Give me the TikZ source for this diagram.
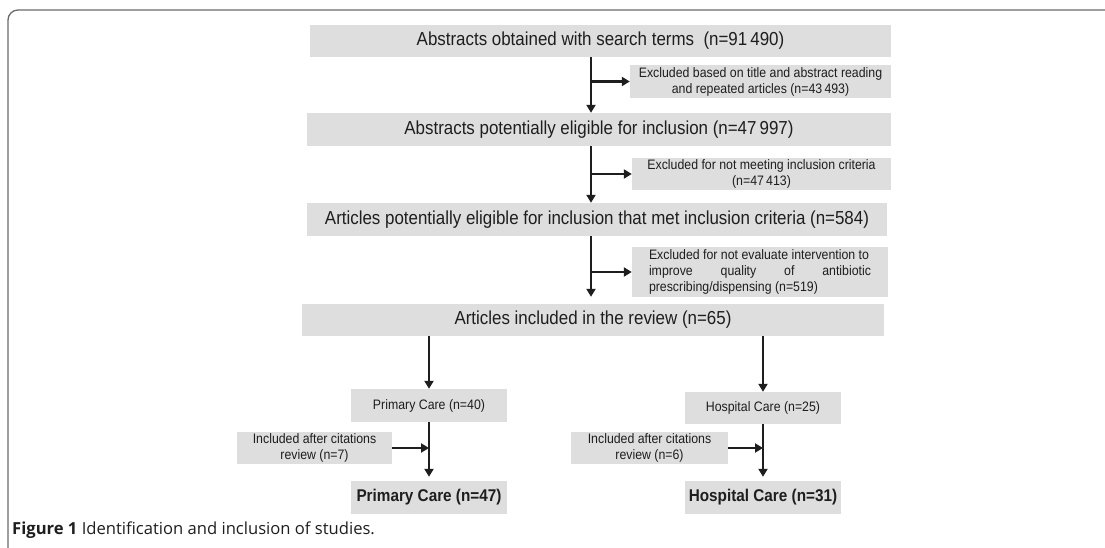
\documentclass[tikz,border=0pt]{standalone}
\usepackage{fontspec}
\setmainfont{Liberation Sans}[FakeStretch=0.9]
\newfontfamily\capfont{Open Sans}
\usetikzlibrary{arrows.meta}
\definecolor{boxgray}{HTML}{DEDEDE}
\definecolor{ink}{HTML}{1E1E1E}
\definecolor{framegray}{HTML}{6A6A6A}
\tikzset{
  box/.style={fill=boxgray, inner sep=0pt, text=ink, align=center},
  big/.style={box, font=\fontsize{18.8}{21}\selectfont},
  small/.style={box, font=\fontsize{13.7}{16}\selectfont},
  final/.style={box, font=\bfseries\fontsize{17}{19}\selectfont},
  arr/.style={draw=ink, line width=2.4pt, -{Triangle[length=8pt,width=9pt]}},
  ln/.style={draw=ink, line width=2.4pt}
}
\begin{document}
\begin{tikzpicture}[x=1pt,y=-1pt]
\useasboundingbox[fill=white] (0,0) rectangle (1105,548);
% frame
\draw[framegray, line width=1.3pt, rounded corners=10pt] (8,548) -- (8,10) -- (1105,10);
\coordinate (mx) at (591,0);
% main column
\node[big, minimum width=581pt, minimum height=32pt] (b1) at (600.5,41) {Abstracts obtained with search terms\ \ (n=91\,490)};
\node[small, minimum width=261pt, minimum height=33pt] (e1) at (760.5,81.5) {Excluded based on title and abstract reading\\and repeated articles (n=43\,493)};
\node[big, minimum width=584pt, minimum height=33pt] (b2) at (599,129.5) {Abstracts potentially eligible for inclusion (n=47\,997)};
\node[small, minimum width=259pt, minimum height=32pt] (e2) at (761.5,174) {Excluded for not meeting inclusion criteria\\(n=47\,413)};
\node[big, minimum width=580pt, minimum height=33pt] (b3) at (597,219.5) {Articles potentially eligible for inclusion that met inclusion criteria (n=584)};
\node[small, minimum width=256pt, minimum height=50pt, align=left] (e3) at (760,272) {Excluded for not evaluate intervention to\\\makebox[222pt][s]{improve quality of antibiotic}\\prescribing/dispensing (n=519)};
\node[big, minimum width=582pt, minimum height=32pt] (b4) at (593,320) {Articles included in the review (n=65)};
% branches
\node[small, minimum width=156pt, minimum height=33pt] (pc) at (429,405.5) {Primary Care (n=40)};
\node[small, minimum width=156pt, minimum height=32pt] (hc) at (763,408) {Hospital Care (n=25)};
\node[small, minimum width=155pt, minimum height=32pt] (ipc) at (314.5,448) {Included after citations\\review (n=7)};
\node[small, minimum width=157pt, minimum height=32pt] (ihc) at (649.5,448) {Included after citations\\review (n=6)};
\node[final, minimum width=156pt, minimum height=33pt] (fpc) at (429,497.5) {Primary Care (n=47)};
\node[final, minimum width=156pt, minimum height=33pt] (fhc) at (763,497.5) {Hospital Care (n=31)};
% connectors
\draw[arr] (b1.south -| mx) -- (b2.north -| mx);
\draw[arr] (e1.west -| mx) -- (e1.west);
\draw[arr] (b2.south -| mx) -- (b3.north -| mx);
\draw[arr] (e2.west -| mx) -- (e2.west);
\draw[arr, shorten >=7pt] (b3.south -| mx) -- (b4.north -| mx);
\draw[arr] (e3.west -| mx) -- (e3.west);
\draw[arr] (b4.south -| pc.north) -- (pc.north);
\draw[arr] (b4.south -| hc.north) -- (hc.north);
\draw[arr, shorten >=4pt] (pc.south) -- (fpc.north);
\draw[arr, shorten >=4pt] (hc.south) -- (fhc.north);
\draw[arr] (ipc.east) -- (ipc.east -| pc.south);
\draw[arr] (ihc.east) -- (ihc.east -| hc.south);
% caption
\node[anchor=base west, inner sep=0pt, text=ink, font=\capfont\fontsize{16.6}{19}\selectfont] (cap) at (12,534) {\textbf{Figure 1} Identification and inclusion of studies.};
\end{tikzpicture}
\end{document}
